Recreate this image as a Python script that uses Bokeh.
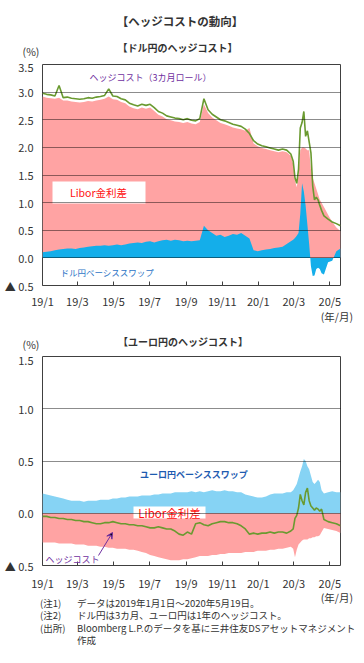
import pandas as pd
from bokeh.plotting import figure
from bokeh.layouts import column
from bokeh.models import Label, FixedTicker, ColumnDataSource, Arrow, VeeHead, BoxAnnotation, Div
from bokeh.embed import file_html
from bokeh.resources import INLINE

FONT = "Noto Sans CJK JP"

# ---------------- data ----------------
dates = [
    "2019-01-01", "2019-01-08", "2019-01-15", "2019-01-22", "2019-01-29", "2019-02-05", "2019-02-12", "2019-02-19",
    "2019-02-26", "2019-03-05", "2019-03-12", "2019-03-19", "2019-03-26", "2019-04-02", "2019-04-09", "2019-04-16",
    "2019-04-23", "2019-04-30", "2019-05-07", "2019-05-14", "2019-05-21", "2019-05-28", "2019-06-04", "2019-06-11",
    "2019-06-18", "2019-06-25", "2019-07-02", "2019-07-09", "2019-07-16", "2019-07-23", "2019-07-30", "2019-08-06",
    "2019-08-13", "2019-08-20", "2019-08-27", "2019-09-03", "2019-09-10", "2019-09-17", "2019-09-24", "2019-10-01",
    "2019-10-08", "2019-10-15", "2019-10-22", "2019-10-29", "2019-11-05", "2019-11-12", "2019-11-19", "2019-11-26",
    "2019-12-03", "2019-12-10", "2019-12-17", "2019-12-24", "2019-12-31", "2020-01-07", "2020-01-14", "2020-01-21",
    "2020-01-28", "2020-02-04", "2020-02-11", "2020-02-18", "2020-02-25",
    "2020-02-29", "2020-03-03", "2020-03-06", "2020-03-09", "2020-03-12", "2020-03-15", "2020-03-18", "2020-03-21",
    "2020-03-24", "2020-03-27", "2020-03-30", "2020-04-02", "2020-04-05", "2020-04-08", "2020-04-11", "2020-04-14",
    "2020-04-17", "2020-04-21", "2020-04-28", "2020-05-05", "2020-05-12", "2020-05-19",
]

# USD/JPY (%)
usd_hedge = [
    2.98, 2.96, 2.95, 2.93, 3.12, 2.90, 2.91, 2.89, 2.88, 2.87,
    2.88, 2.90, 2.89, 2.91, 2.92, 2.94, 3.06, 2.93, 2.92, 2.88,
    2.86, 2.80, 2.77, 2.75, 2.78, 2.76, 2.78, 2.72, 2.65, 2.62,
    2.57, 2.55, 2.53, 2.52, 2.50, 2.52, 2.49, 2.48, 2.52, 2.88,
    2.68, 2.60, 2.55, 2.50, 2.48, 2.45, 2.42, 2.40, 2.38, 2.33,
    2.25, 2.12, 2.06, 2.03, 2.01, 1.99, 1.97, 1.95, 1.97, 1.95,
    1.88,
    1.75, 1.45, 1.35, 1.60, 2.35, 2.45, 2.65, 2.20, 2.30, 2.10,
    1.90, 1.30, 1.05, 1.10, 1.05, 0.95, 0.86, 0.76, 0.70, 0.65,
    0.62, 0.58,
]
usd_libor = [
    2.92, 2.90, 2.89, 2.88, 2.90, 2.85, 2.85, 2.83, 2.82, 2.81,
    2.82, 2.84, 2.83, 2.85, 2.86, 2.88, 2.92, 2.87, 2.86, 2.82,
    2.80, 2.74, 2.71, 2.69, 2.72, 2.70, 2.72, 2.66, 2.59, 2.56,
    2.51, 2.49, 2.47, 2.46, 2.44, 2.46, 2.43, 2.42, 2.46, 2.78,
    2.62, 2.54, 2.49, 2.44, 2.42, 2.39, 2.36, 2.34, 2.33, 2.30,
    2.35, 2.07, 2.02, 1.99, 1.97, 1.95, 1.93, 1.91, 1.93, 1.91,
    1.85,
    1.70, 1.40, 1.28, 1.50, 1.95, 2.00, 2.00, 1.98, 1.95, 1.95,
    1.60, 1.45, 1.35, 1.25, 1.15, 1.05, 1.00, 0.92, 0.78, 0.65,
    0.55, 0.48,
]
usd_basis = [
    0.10, 0.11, 0.12, 0.14, 0.15, 0.16, 0.17, 0.17, 0.16, 0.18,
    0.19, 0.20, 0.21, 0.22, 0.22, 0.23, 0.22, 0.23, 0.24, 0.23,
    0.24, 0.26, 0.27, 0.28, 0.27, 0.29, 0.30, 0.28, 0.30, 0.32,
    0.33, 0.31, 0.33, 0.32, 0.30, 0.31, 0.30, 0.31, 0.32, 0.58,
    0.50, 0.45, 0.40, 0.42, 0.38, 0.40, 0.43, 0.42, 0.45, 0.40,
    0.35, 0.14, 0.12, 0.14, 0.15, 0.16, 0.18, 0.19, 0.20, 0.25,
    0.30,
    0.33, 0.36, 0.40, 0.45, 0.80, 1.35, 1.20, 0.95, 0.60, 0.25,
    -0.15, -0.33, -0.32, -0.20, -0.18, -0.20, -0.28, -0.30, -0.08, -0.05,
    0.12, 0.17,
]

# EUR/JPY (%)
eur_hedge = [
    -0.03, -0.03, -0.04, -0.04, -0.05, -0.05, -0.06, -0.06, -0.07, -0.07,
    -0.08, -0.08, -0.09, -0.10, -0.10, -0.09, -0.09, -0.08, -0.09, -0.10,
    -0.10, -0.11, -0.11, -0.12, -0.12, -0.13, -0.14, -0.14, -0.13, -0.14,
    -0.15, -0.15, -0.17, -0.20, -0.21, -0.18, -0.20, -0.10, -0.09, -0.11,
    -0.12, -0.10, -0.09, -0.08, -0.08, -0.09, -0.09, -0.10, -0.12, -0.15,
    -0.20, -0.19, -0.20, -0.19, -0.19, -0.18, -0.19, -0.18, -0.18, -0.19,
    -0.17,
    -0.15, -0.05, -0.02, 0.05, 0.18, 0.12, 0.08, 0.20, 0.24, 0.12,
    0.07, 0.05, 0.03, 0.05, 0.04, 0.02, 0.04, -0.06, -0.08, -0.09,
    -0.10, -0.12,
]
eur_libor = [
    -0.28, -0.28, -0.28, -0.28, -0.29, -0.29, -0.29, -0.29, -0.30, -0.30,
    -0.30, -0.31, -0.31, -0.31, -0.32, -0.32, -0.33, -0.33, -0.34, -0.34,
    -0.34, -0.35, -0.35, -0.36, -0.37, -0.38, -0.40, -0.41, -0.42, -0.43,
    -0.44, -0.45, -0.45, -0.45, -0.44, -0.44, -0.43, -0.42, -0.41, -0.41,
    -0.41, -0.40, -0.40, -0.39, -0.39, -0.38, -0.38, -0.38, -0.38, -0.37,
    -0.37, -0.37, -0.36, -0.36, -0.36, -0.35, -0.35, -0.34, -0.34, -0.33,
    -0.32,
    -0.34, -0.42, -0.35, -0.30, -0.28, -0.26, -0.25, -0.25, -0.25, -0.24,
    -0.24, -0.23, -0.23, -0.22, -0.22, -0.21, -0.18, -0.14, -0.15, -0.16,
    -0.17, -0.19,
]
eur_basis = [
    0.19, 0.18, 0.17, 0.16, 0.15, 0.14, 0.13, 0.12, 0.12, 0.12,
    0.11, 0.12, 0.12, 0.12, 0.13, 0.13, 0.13, 0.14, 0.14, 0.15,
    0.15, 0.16, 0.16, 0.16, 0.17, 0.17, 0.17, 0.18, 0.18, 0.19,
    0.19, 0.19, 0.20, 0.20, 0.20, 0.20, 0.21, 0.20, 0.21, 0.20,
    0.21, 0.22, 0.21, 0.21, 0.22, 0.21, 0.21, 0.20, 0.20, 0.18,
    0.17, 0.16, 0.15, 0.15, 0.16, 0.18, 0.19, 0.19, 0.19, 0.20,
    0.20,
    0.22, 0.25, 0.28, 0.34, 0.40, 0.45, 0.52, 0.50, 0.45, 0.42,
    0.36, 0.30, 0.28, 0.30, 0.32, 0.30, 0.22, 0.19, 0.20, 0.21,
    0.20, 0.20,
]

x_tick_dates = ["2019-01-01", "2019-03-01", "2019-05-01", "2019-07-01", "2019-09-01",
                "2019-11-01", "2020-01-01", "2020-03-01", "2020-05-01"]
x_tick_labels = ["19/1", "19/3", "19/5", "19/7", "19/9", "19/11", "20/1", "20/3", "20/5"]

usd_y_ticks = [-0.5, 0.0, 0.5, 1.0, 1.5, 2.0, 2.5, 3.0, 3.5]
usd_y_labels = ["▲ 0.5", "0.0", "0.5", "1.0", "1.5", "2.0", "2.5", "3.0", "3.5"]
eur_y_ticks = [-0.5, 0.0, 0.5, 1.0, 1.5]
eur_y_labels = ["▲ 0.5", "0.0", "0.5", "1.0", "1.5"]

main_title = "【ヘッジコストの動向】"
usd_title = "【ドル円のヘッジコスト】"
eur_title = "【ユーロ円のヘッジコスト】"
unit_label = "(%)"
x_unit_label = "(年/月)"
notes_prefix = ["(注1)", "(注2)", "(出所)", ""]
notes_text = ["データは2019年1月1日～2020年5月19日。",
              "ドル円は3カ月、ユーロ円は1年のヘッジコスト。",
              "Bloomberg L.P.のデータを基に三井住友DSアセットマネジメント",
              "作成"]

start = pd.Timestamp("2019-01-01")
end = pd.Timestamp("2020-05-19")
xs = [(pd.Timestamp(d) - start).days for d in dates]
xt = [(pd.Timestamp(d) - start).days for d in x_tick_dates]
x_end = (end - start).days

PINK = "#FFA3A3"
BLUE_TOP = "#14AEEA"
BLUE_BOT = "#86D3F4"
GREEN = "#6A9A30"
PURPLE = "#7030A0"
RED = "#FF1010"
TXT = "#333333"
W = 364
BL, BR = 42, 24   # frame borders (left / right)


def style(p, yticks, ylabels, standoff_x):
    p.xaxis.ticker = FixedTicker(ticks=xt)
    p.xaxis.major_label_overrides = {t: l for t, l in zip(xt, x_tick_labels)}
    p.xaxis.major_tick_in = 4
    p.xaxis.major_tick_out = 0
    p.xaxis.minor_tick_line_color = None
    p.xaxis.axis_line_color = None
    p.xaxis.major_tick_line_color = "#404040"
    p.xaxis.major_label_standoff = standoff_x
    p.yaxis.ticker = FixedTicker(ticks=yticks)
    p.yaxis.major_label_overrides = {t: l for t, l in zip(yticks, ylabels)}
    p.yaxis.major_tick_in = 0
    p.yaxis.major_tick_out = 0
    p.yaxis.minor_tick_line_color = None
    p.yaxis.axis_line_color = None
    p.yaxis.major_label_standoff = 9
    for ax in (p.xaxis, p.yaxis):
        ax.major_label_text_font = FONT
        ax.major_label_text_font_size = "11px"
        ax.major_label_text_color = TXT
    p.xgrid.grid_line_color = None
    p.ygrid.ticker = FixedTicker(ticks=yticks)
    p.ygrid.grid_line_color = "black"
    p.ygrid.grid_line_alpha = 0.45
    p.ygrid.level = "overlay"
    p.outline_line_color = "#404040"
    p.outline_line_width = 1


def lab(p, text, x, y, size, color=TXT, align="left", bold=False):
    p.add_layout(Label(x=x, y=y, x_units="screen", y_units="screen", text=text,
                       text_font=FONT, text_font_size=size, text_color=color,
                       text_align=align, text_baseline="middle",
                       text_font_style="bold" if bold else "normal"))


def span(text, x, y, size, anchor="center", bold=False, color=TXT):
    tx = {"left": "0", "center": "-50%", "right": "-100%"}[anchor]
    return (f'<span style="position:absolute;left:{x}px;top:{y}px;'
            f'transform:translate({tx},-50%);font-family:\'{FONT}\';font-size:{size};'
            f'color:{color};font-weight:{"bold" if bold else "normal"};'
            f'white-space:nowrap;line-height:1;">{text}</span>')


def text_block(h, spans):
    html = (f'<div style="position:relative;width:{W}px;height:{h}px;overflow:visible;">'
            + "".join(spans) + "</div>")
    return Div(text=html, width=W, height=h, margin=0)


src = ColumnDataSource(dict(x=xs, usd_hedge=usd_hedge, usd_libor=usd_libor, usd_basis=usd_basis,
                            eur_hedge=eur_hedge, eur_libor=eur_libor, eur_basis=eur_basis))

# ---------------- header (page y 0..58) ----------------
head = text_block(58, [
    span(main_title, 180, 21.5, "11.5px", bold=True),
    span(usd_title, 177.5, 48, "10px", bold=True),
    span(unit_label, 31, 52, "10.5px"),
])

# ---------------- top chart (page y 58..311), frame 64..287 ----------------
p1 = figure(width=W, height=253, x_range=(0, x_end), y_range=(-0.5, 3.5),
            output_backend="svg", toolbar_location=None,
            min_border_left=BL, min_border_right=BR, min_border_top=6, min_border_bottom=24)
p1.varea(x="x", y1=0, y2="usd_libor", source=src, fill_color=PINK)
p1.varea(x="x", y1=0, y2="usd_basis", source=src, fill_color=BLUE_TOP)
p1.line(x="x", y="usd_hedge", source=src, line_color=GREEN, line_width=1.6)
style(p1, usd_y_ticks, usd_y_labels, 7)

# frame-relative: left page x 42, bottom page y 287
lab(p1, "ヘッジコスト（3カ月ロール）", 108, 208, "9px", color=PURPLE, align="center")
p1.add_layout(BoxAnnotation(left=10, right=103, bottom=82, top=104,
                            left_units="screen", right_units="screen",
                            bottom_units="screen", top_units="screen",
                            fill_color="white", fill_alpha=1, line_color=None))
lab(p1, "Libor金利差", 56, 93, "10.5px", color=RED, align="center")
lab(p1, "ドル円ベーシススワップ", 18, 14, "8.5px", color="#2E75C6")

# ---------------- middle text (page y 311..351) ----------------
mid = text_block(40, [
    span(x_unit_label, 353, 5.5, "10.5px", anchor="right"),
    span(eur_title, 183, 30.5, "10px", bold=True),
    span(unit_label, 31, 34, "10.5px"),
])

# ---------------- bottom chart (page y 351..593), frame 356..568 ----------------
p2 = figure(width=W, height=242, x_range=(0, x_end), y_range=(-0.5, 1.5),
            output_backend="svg", toolbar_location=None,
            min_border_left=BL, min_border_right=BR, min_border_top=5, min_border_bottom=25)
p2.varea(x="x", y1=0, y2="eur_basis", source=src, fill_color=BLUE_BOT)
p2.varea(x="x", y1=0, y2="eur_libor", source=src, fill_color=PINK)
p2.line(x="x", y="eur_hedge", source=src, line_color=GREEN, line_width=1.6)
style(p2, eur_y_ticks, eur_y_labels, 9)

# frame-relative: left page x 42, bottom page y 568
lab(p2, "ユーロ円ベーシススワップ", 151.5, 91, "9px", color="#1E5BB0", align="center", bold=True)
p2.add_layout(BoxAnnotation(left=91, right=163, bottom=47, top=59,
                            left_units="screen", right_units="screen",
                            bottom_units="screen", top_units="screen",
                            fill_color="white", fill_alpha=1, line_color=None))
lab(p2, "Libor金利差", 127, 53, "11.5px", color=RED, align="center")
lab(p2, "ヘッジコスト", 3, 6, "9px", color=PURPLE)
p2.add_layout(Arrow(x_start=56, y_start=10, x_end=70, y_end=33,
                    start_units="screen", end_units="screen",
                    line_color=PURPLE, line_width=1,
                    end=VeeHead(size=6, line_color=PURPLE, line_width=1)))

# ---------------- notes (page y 593..663) ----------------
note_spans = [span(x_unit_label, 353, 5, "10.5px", anchor="right")]
for i, (pre, txt) in enumerate(zip(notes_prefix, notes_text)):
    yy = 10.5 + 12.5 * i
    if pre:
        note_spans.append(span(pre, 40, yy, "9.5px", anchor="left"))
    note_spans.append(span(txt, 77, yy, "9.5px", anchor="left"))
notes = text_block(70, note_spans)

layout = column(head, p1, mid, p2, notes, spacing=0)
open("out.html", "w").write(file_html(layout, INLINE))
